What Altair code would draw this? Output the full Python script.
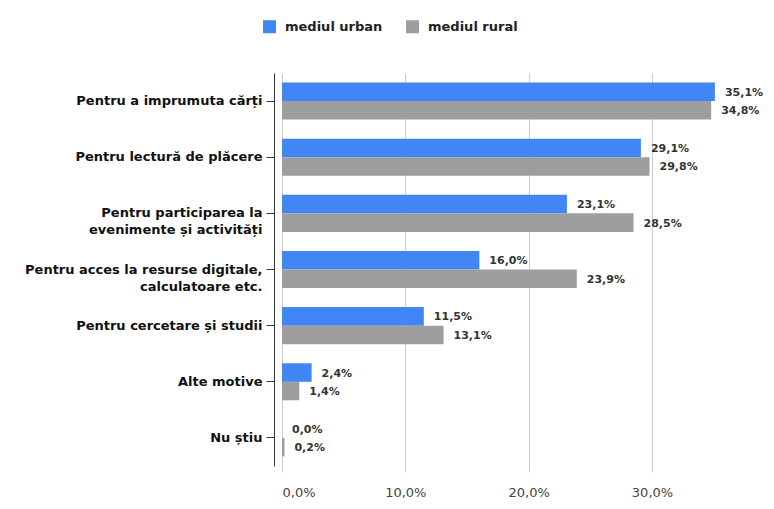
import altair as alt
import pandas as pd

categories = [
    "Pentru a imprumuta cărți",
    "Pentru lectură de plăcere",
    "Pentru participarea la\nevenimente și activități",
    "Pentru acces la resurse digitale,\ncalculatoare etc.",
    "Pentru cercetare și studii",
    "Alte motive",
    "Nu știu",
]
series = ["mediul urban", "mediul rural"]
urban = [35.1, 29.1, 23.1, 16.0, 11.5, 2.4, 0.0]
rural = [34.8, 29.8, 28.5, 23.9, 13.1, 1.4, 0.2]
colors = ["#4285f4", "#9e9e9e"]
x_ticks = [0, 10, 20, 30]

rows = []
for c, u, r in zip(categories, urban, rural):
    rows.append({"cat": c, "serie": series[0], "val": u})
    rows.append({"cat": c, "serie": series[1], "val": r})
df = pd.DataFrame(rows)

FONT = "DejaVu Sans"

base = alt.Chart(df).transform_calculate(
    lbl="replace(format(datum.val, '.1f'), '.', ',') + '%'"
)

y_enc = alt.Y(
    "cat:N",
    sort=categories,
    scale=alt.Scale(paddingInner=0.34, paddingOuter=0.17),
    axis=alt.Axis(
        title=None,
        labelExpr="split(datum.label, '\\n')",
        labelFont=FONT,
        labelFontSize=13,
        labelFontWeight="bold",
        labelColor="#111111",
        labelLineHeight=17,
        labelPadding=4,
        tickSize=8,
        tickColor="#333333",
        domainColor="#333333",
        offset=8,
        grid=False,
        labelLimit=300,
    ),
)

x_enc = alt.X(
    "val:Q",
    scale=alt.Scale(domain=[0, 36], nice=False),
    axis=alt.Axis(
        title=None,
        values=x_ticks,
        labelExpr="replace(format(datum.value, '.1f'), '.', ',') + '%'",
        labelFont=FONT,
        labelFontSize=13,
        labelColor="#444444",
        labelPadding=14,
        tickSize=6,
        tickColor="#cccccc",
        domain=False,
        grid=True,
        gridColor="#cccccc",
    ),
)

yoff = alt.YOffset("serie:N", sort=series)

bars = base.mark_bar().encode(
    y=y_enc,
    x=x_enc,
    yOffset=yoff,
    color=alt.Color(
        "serie:N",
        sort=series,
        scale=alt.Scale(domain=series, range=colors),
        legend=alt.Legend(
            title=None,
            orient="none",
            direction="horizontal",
            legendX=-19,
            legendY=-53,
            symbolType="square",
            symbolSize=169,
            symbolStrokeWidth=0,
            labelFont=FONT,
            labelFontSize=13,
            labelFontWeight="bold",
            labelColor="#222222",
            labelOffset=9,
            columnPadding=23,
            padding=0,
        ),
    ),
)

labels = base.mark_text(
    align="left", baseline="middle", dx=10, dy=1,
    font=FONT, fontSize=11, fontWeight="bold", color="#333333",
).encode(
    y=alt.Y("cat:N", sort=categories),
    x=alt.X("val:Q"),
    yOffset=yoff,
    text="lbl:N",
)

chart = (
    alt.layer(bars, labels)
    .properties(
        width=444,
        height=393,
        background="white",
        autosize=alt.AutoSizeParams(type="none"),
        padding={"left": 274, "top": 65, "right": 40, "bottom": 34},
    )
    .configure_view(strokeWidth=0, stroke="transparent")
)

chart.save("out.html", embed_options={"renderer": "svg", "actions": False})
